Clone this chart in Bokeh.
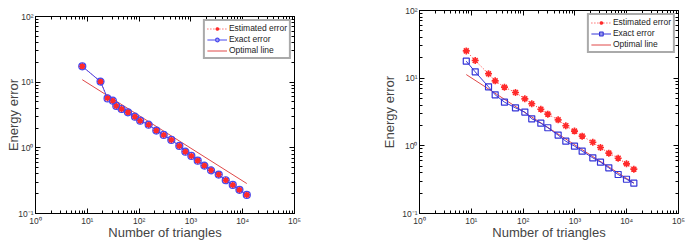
from bokeh.plotting import figure
from bokeh.layouts import row, column
from bokeh.models import (LogAxis, FixedTicker, CustomJSTickFormatter, Legend, LegendItem, Spacer)
from bokeh.embed import file_html
from bokeh.resources import INLINE

# ---------------- data ----------------
left_n = [8, 18, 24.6, 31.2, 36.3, 45.9, 60.9, 83.2, 105, 153, 215, 298, 419, 598,
          782, 1021, 1353, 1821, 2450, 3443, 4706, 6429, 8650, 11990]
left_exact = [17.4, 10.2, 5.66, 5.22, 4.34, 3.90, 3.47, 2.98, 2.59, 2.25, 1.83, 1.57,
              1.32, 1.07, 0.875, 0.752, 0.638, 0.536, 0.455, 0.392, 0.321, 0.272, 0.229, 0.192]
left_est = [17.4, 10.2, 5.75, 5.22, 4.34, 3.90, 3.47, 2.98, 2.59, 2.25, 1.83, 1.57,
            1.32, 1.07, 0.875, 0.752, 0.638, 0.536, 0.455, 0.392, 0.321, 0.272, 0.229, 0.192]
left_opt_n = [8, 11990]
left_opt = [10.9, 0.286]

right_n = [8, 11.9, 21.5, 28.9, 43.7, 71.3, 108, 147, 220, 300, 475, 668, 982, 1381,
           2218, 3119, 4514, 6840, 9910, 13740]
right_exact = [17.8, 12.4, 7.45, 5.67, 4.42, 3.64, 3.15, 2.51, 2.16, 1.85, 1.44, 1.17,
               0.99, 0.834, 0.665, 0.574, 0.473, 0.377, 0.321, 0.281]
right_est = [25.3, 18.2, 11.6, 9.13, 7.36, 6.14, 4.95, 4.18, 3.48, 2.94, 2.42, 1.98,
             1.65, 1.39, 1.13, 0.944, 0.78, 0.657, 0.542, 0.452]
right_opt_n = [8, 13740]
right_opt = [11.3, 0.281]

x_ticks = [1, 10, 100, 1000, 10000, 100000]
y_ticks = [0.1, 1, 10, 100]
labels = ["Estimated error", "Exact error", "Optimal line"]
x_label = "Number of triangles"
y_label = "Energy error"

FONT = "Liberation Sans"
RED = "#ff2a2a"
OPT = "#e04848"


def minors(majors):
    out = []
    for t in majors[:-1]:
        out += [t * m for m in range(2, 10)]
    return out


fmt = CustomJSTickFormatter(code="""
const s = {'-':'\u207b','0':'\u2070','1':'\u00b9','2':'\u00b2','3':'\u00b3','4':'\u2074','5':'\u2075'};
const e = Math.round(Math.log10(tick));
return '10' + String(e).split('').map(c => s[c]).join('');
""")


def style_axis(ax, ticks, show_labels=True):
    ax.ticker = FixedTicker(ticks=ticks, minor_ticks=minors(ticks))
    ax.major_tick_in = 5
    ax.major_tick_out = 0
    ax.minor_tick_in = 3
    ax.minor_tick_out = 0
    ax.axis_line_color = "black"
    ax.major_tick_line_color = "black"
    ax.minor_tick_line_color = "black"
    if show_labels:
        ax.formatter = fmt
        ax.major_label_text_font = FONT
        ax.major_label_text_font_size = "8.5px"
        ax.major_label_text_color = "#333333"
        ax.major_label_standoff = 2
    else:
        ax.major_label_text_font_size = "0px"
        ax.major_label_standoff = 0
        ax.formatter = CustomJSTickFormatter(code="return '';")


def make_fig(fw, fh, bl, br, bt, bb, ylab_standoff):
    p = figure(frame_width=fw, frame_height=fh, x_axis_type="log", y_axis_type="log",
               x_range=(1, 1e5), y_range=(0.1, 100), output_backend="svg", title=None,
               toolbar_location=None, min_border_left=bl, min_border_right=br,
               min_border_top=bt, min_border_bottom=bb)
    p.grid.visible = False
    p.outline_line_color = "black"
    p.background_fill_color = "white"
    p.border_fill_color = "white"
    style_axis(p.xaxis[0], x_ticks)
    style_axis(p.yaxis[0], y_ticks)
    for ax in (p.xaxis[0], p.yaxis[0]):
        ax.axis_label_text_font = FONT
        ax.axis_label_text_font_style = "normal"
        ax.axis_label_text_font_size = "13px"
    p.xaxis[0].axis_label_standoff = -4
    p.yaxis[0].axis_label_standoff = ylab_standoff
    p.xaxis[0].axis_label = x_label
    p.yaxis[0].axis_label = y_label
    top = LogAxis()
    style_axis(top, x_ticks, show_labels=False)
    p.add_layout(top, "above")
    right = LogAxis()
    style_axis(right, y_ticks, show_labels=False)
    p.add_layout(right, "right")
    return p


def add_series(p, n, est, exact, opt_n, opt, exact_marker, exact_color, msize):
    opt_r = p.line(opt_n, opt, line_color=OPT, line_width=1)
    est_l = p.line(n, est, line_color=RED, line_width=1, line_dash="1 2")
    est_s = p.scatter(n, est, marker="asterisk", size=7, line_color=RED, line_width=1.6)
    ex_l = p.line(n, exact, line_color=exact_color, line_width=1)
    ex_s = p.scatter(n, exact, marker=exact_marker, size=msize, line_color=exact_color,
                     fill_color=None, line_width=1.2)
    legend = Legend(items=[
        LegendItem(label=labels[0], renderers=[est_l, est_s]),
        LegendItem(label=labels[1], renderers=[ex_l, ex_s]),
        LegendItem(label=labels[2], renderers=[opt_r]),
    ], location="top_right")
    legend.label_text_font = FONT
    legend.label_text_font_size = "8.5px"
    legend.label_text_color = "#222222"
    legend.label_height = 9
    legend.glyph_height = 9
    legend.glyph_width = 20
    legend.label_standoff = 2
    legend.spacing = 1
    legend.padding = 2
    legend.margin = 3
    legend.border_line_color = "#555555"
    legend.border_line_width = 2
    legend.background_fill_color = "white"
    p.add_layout(legend)


p1 = make_fig(259, 197, 35, 50, 10, 35, -6)
add_series(p1, left_n, left_est, left_exact, left_opt_n, left_opt, "circle", "#4848ee", 7)
p1.scatter(left_n, left_est, marker="asterisk", size=5, line_color=RED, line_width=1.5)

p2 = make_fig(259, 203, 75, 12, 10, 35, 2)
add_series(p2, right_n, right_est, right_exact, right_opt_n, right_opt, "square", "#3535d8", 6)

layout = row(column(Spacer(width=344, height=6), p1), p2)
open("out.html", "w").write(file_html(layout, INLINE))
